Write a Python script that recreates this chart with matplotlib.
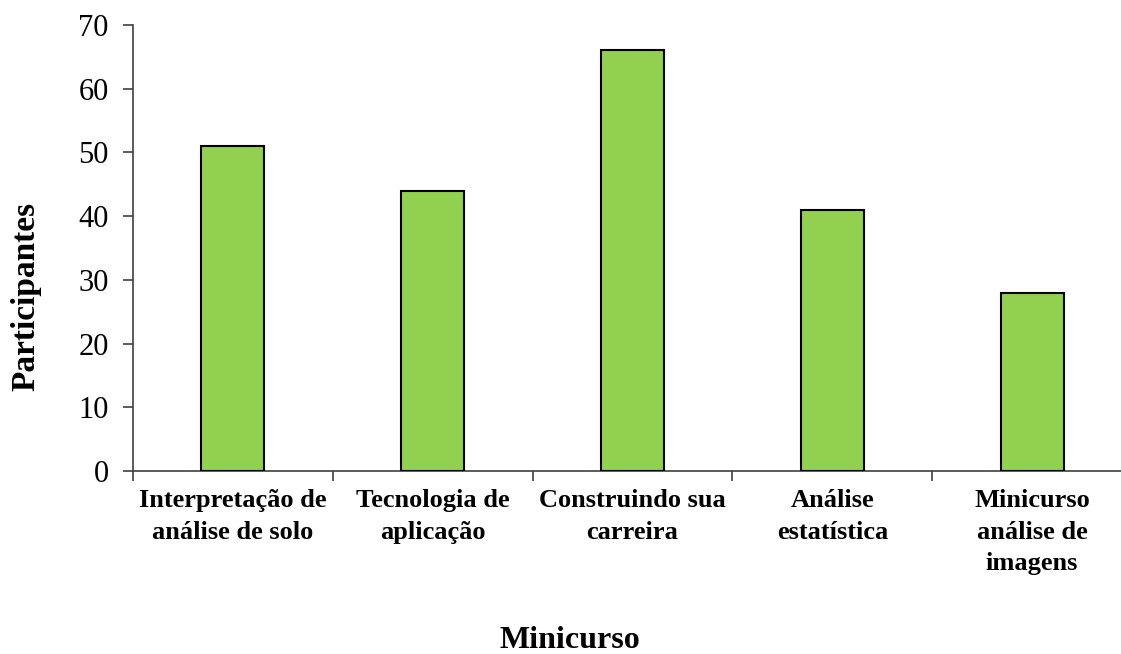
import matplotlib.pyplot as plt
import numpy as np

categories = ["Interpretação de\nanálise de solo", "Tecnologia de\naplicação",
              "Construindo sua\ncarreira", "Análise\nestatística",
              "Minicurso\nanálise de\nimagens"]
participantes = [51, 44, 66, 41, 28]

plt.rcParams['font.family'] = ['Liberation Serif', 'DejaVu Serif']

fig = plt.figure(figsize=(11.21, 6.54), dpi=100)
ax = fig.add_axes([133 / 1121, 1 - 471 / 654, (1121 - 133) / 1121, (471 - 25) / 654])

x = np.arange(len(categories))
ax.bar(x, participantes, width=0.315, color='#92D050', edgecolor='black', linewidth=1.5, zorder=3)

ax.set_xlim(-0.5, 4.5 - 11 / 200)
ax.set_ylim(0, 70)
ax.set_yticks(range(0, 71, 10))
ax.tick_params(axis='y', labelsize=22, direction='out', length=7.5, width=1.2, pad=10,
               colors='#404040', labelcolor='black')

# category ticks between bars, labels centred under bars
ax.set_xticks(np.arange(-0.5, 4.0, 1.0))
ax.set_xticklabels([])
ax.tick_params(axis='x', direction='out', length=7.5, width=1.2, colors='#404040')
for xi, lab in zip(x, categories):
    ax.text(xi, -2.9, lab, ha='center', va='top', fontsize=19, fontweight='bold',
            linespacing=1.45, transform=ax.transData)

for side in ['top', 'right']:
    ax.spines[side].set_visible(False)
for side in ['left', 'bottom']:
    ax.spines[side].set_color('#404040')
    ax.spines[side].set_linewidth(1.2)

fig.text(26 / 1121, 1 - 296 / 654, "Participantes", rotation=90, ha='center', va='center',
         fontsize=24, fontweight='bold')
fig.text(570 / 1121, 1 - 640 / 654, "Minicurso", ha='center', va='center',
         fontsize=23, fontweight='bold')

fig.savefig('out.png', dpi=100)
